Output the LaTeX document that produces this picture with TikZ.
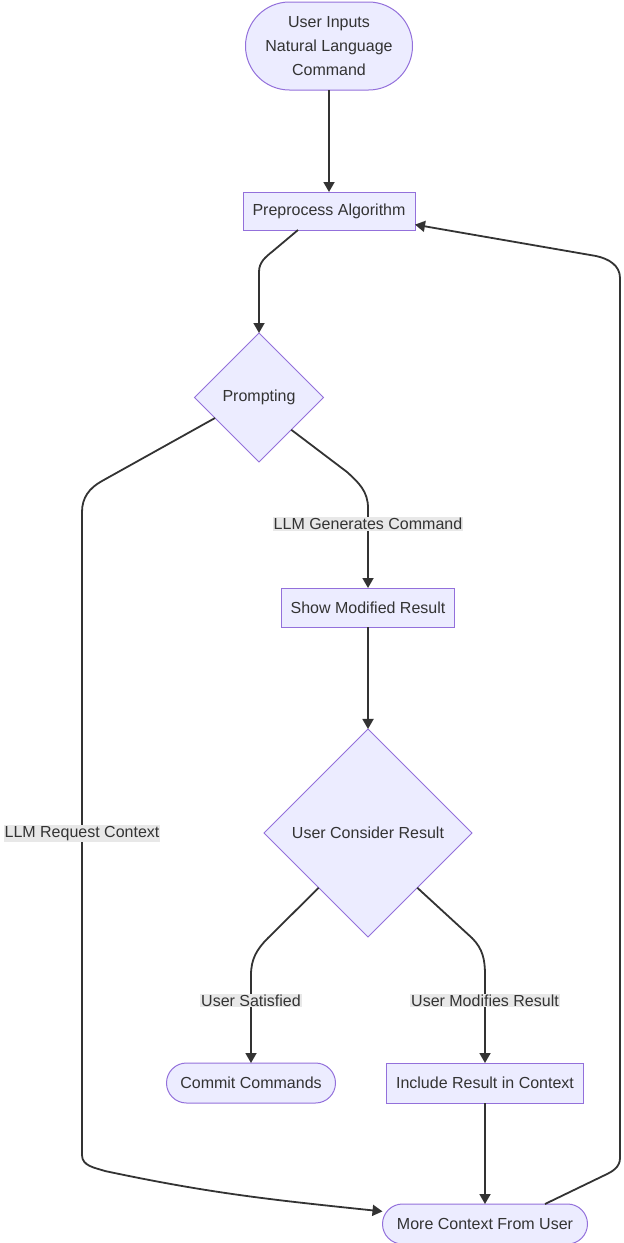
\documentclass[tikz,border=0pt]{standalone}
\usepackage{fontspec}
\setmainfont{Liberation Sans}
\usetikzlibrary{arrows.meta, positioning, shapes.geometric}
\definecolor{mmfill}{HTML}{ECECFF}
\definecolor{mmline}{HTML}{9370DB}
\definecolor{mmedge}{HTML}{333333}
\definecolor{mmtext}{HTML}{333333}
\definecolor{mmlab}{HTML}{E8E8E8}

\begin{document}
\begin{tikzpicture}[
    x=1pt, y=-1pt,
    node distance=102pt,
    base/.style={draw=mmline, fill=mmfill, line width=1pt, text=mmtext,
                 font=\fontsize{16pt}{24pt}\selectfont, align=center,
                 inner sep=2pt, outer sep=0pt},
    proc/.style={base, minimum height=39pt},
    term/.style={base, rounded corners=20pt, minimum height=40pt},
    dec/.style={base, diamond, aspect=1, inner sep=0pt},
    arr/.style={-{Triangle[length=10pt, width=11pt]}, line width=1.8pt, mmedge},
    lab/.style={fill=mmlab, text=mmtext,
                font=\fontsize{16pt}{20pt}\selectfont, inner sep=1pt},
  ]
  \useasboundingbox (0,0) rectangle (624,1243);

  \node[term, rounded corners=44pt, minimum width=167pt, minimum height=88pt]
    (start) at (329,46) {User Inputs\\Natural Language\\Command};
  \node[proc, minimum width=172pt, minimum height=38pt, below=of start]
    (pre) {Preprocess Algorithm};
  \node[dec, minimum size=129pt, below=103pt of pre, xshift=-70pt]
    (prom) {Prompting};
  \node[proc, minimum width=173pt, below=126pt of prom, xshift=109pt]
    (show) {Show Modified Result};
  \node[dec, minimum size=208pt, below=of show] (cons) {User Consider Result};
  \node[term, minimum width=169pt, below=126pt of cons, xshift=-117pt]
    (commit) {Commit Commands};
  \node[proc, minimum width=197pt, minimum height=40pt,
        below=126pt of cons, xshift=117pt] (incl) {Include Result in Context};
  \node[term, minimum width=205pt, below=101pt of incl]
    (more) {More Context From User};

  \draw[arr] (start) -- (pre);
  \draw[arr] ([xshift=-31pt]pre.south) -- (273,251)
    to[out=219, in=90] (259,272) -- (prom);
  \draw[arr] (prom.south east) -- (347,472) to[out=-42, in=90] (368,508)
    -- node[lab, pos=0.2] {LLM Generates Command} (show);
  \draw[arr] (prom.205) -- (102,481) to[out=209, in=90] (82,512)
    -- node[lab] {LLM Request Context} (82,1155)
    to[out=-90, in=162] (105,1171) to[out=-12, in=174] (more.173);
  \draw[arr] (show) -- (cons);
  \draw[arr] (cons.228) -- (268,938) to[out=225, in=90] (251,975)
    -- node[lab, pos=0.29] {User Satisfied} (commit);
  \draw[arr] (cons.-48) -- (472,938) to[out=-45, in=90] (485,975)
    -- node[lab, pos=0.29] {User Modifies Result} (incl);
  \draw[arr] (incl) -- (more);
  \draw[arr] ([xshift=60pt]more.north) -- (605,1175)
    to[out=25, in=-90] (620,1158) -- (620,278)
    to[out=90, in=-12] (596,256) -- (pre.-9);
\end{tikzpicture}
\end{document}
